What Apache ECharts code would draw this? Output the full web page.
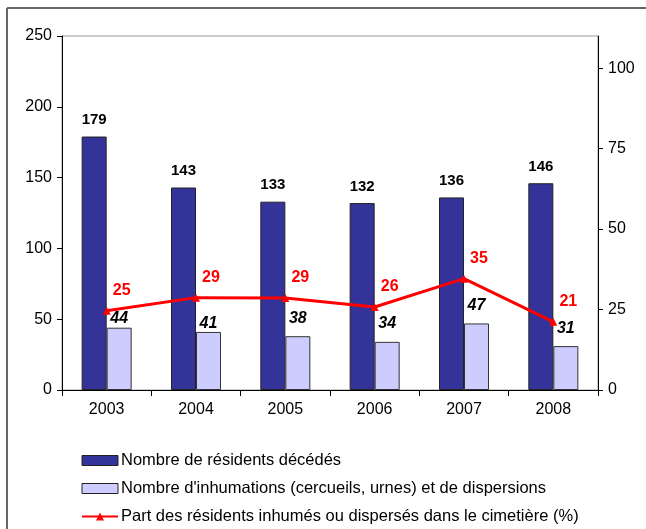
<!DOCTYPE html>
<html>
<head>
<meta charset="utf-8">
<script src="https://cdn.jsdelivr.net/npm/echarts@6/dist/echarts.min.js"></script>
<style>
html,body{margin:0;padding:0;background:#fff;}
#c{width:646px;height:529px;}
</style>
</head>
<body>
<div id="c"></div>
<script>
var categories = ['2003', '2004', '2005', '2006', '2007', '2008'];
var deces = [179, 143, 133, 132, 136, 146];
var inhumations = [44, 41, 38, 34, 47, 31];
var partPct = [24.6, 28.7, 28.6, 25.8, 34.6, 21.2];
var leftTicks = [0, 50, 100, 150, 200, 250];
var rightTicks = [0, 25, 50, 75, 100];

var seriesNames = [
  'Nombre de résidents décédés',
  "Nombre d'inhumations (cercueils, urnes) et de dispersions",
  'Part des résidents inhumés ou dispersés dans le cimetière (%)'
];

var font = 'Arial, "Liberation Sans", sans-serif';

var inhumData = inhumations.map(function (v, i) {
  var item = { value: v };
  if (i < 2) item.label = { distance: i === 0 ? 1 : 0 };
  return item;
});

var chart = echarts.init(document.getElementById('c'), null, { renderer: 'canvas' });
chart.setOption({
  backgroundColor: '#ffffff',
  animation: false,
  textStyle: { fontFamily: font },
  graphic: [
    { type: 'line', shape: { x1: 7, y1: 8, x2: 646, y2: 8 }, style: { stroke: '#666', lineWidth: 2 } },
    { type: 'line', shape: { x1: 7, y1: 8, x2: 7, y2: 529 }, style: { stroke: '#666', lineWidth: 2 } }
  ],
  grid: {
    left: 62, right: 48, top: 36, bottom: 139,
    show: true, borderColor: '#999', borderWidth: 1, backgroundColor: 'transparent'
  },
  legend: {
    orient: 'vertical',
    left: 81, top: 452, width: 560, height: 80,
    padding: 0,
    itemWidth: 36, itemHeight: 10, itemGap: 11,
    textStyle: { fontSize: 16.5, color: '#000', fontFamily: font, lineHeight: 17, padding: [0, 0, 0, -2] },
    data: [
      { name: seriesNames[0], icon: 'rect', itemStyle: { borderColor: '#222', borderWidth: 1 } },
      { name: seriesNames[1], icon: 'rect', itemStyle: { borderColor: '#222', borderWidth: 1 } },
      { name: seriesNames[2], itemStyle: { borderWidth: 0 } }
    ]
  },
  xAxis: {
    type: 'category',
    data: categories,
    axisLine: { lineStyle: { color: '#000', width: 1 } },
    axisTick: { show: true, length: 6, lineStyle: { color: '#000' } },
    axisLabel: { fontSize: 16, color: '#000', margin: 12, fontFamily: font }
  },
  yAxis: [
    {
      type: 'value', min: 0, max: 250, interval: 50,
      axisLine: { show: true, lineStyle: { color: '#000' } },
      axisTick: { show: true, length: 5, lineStyle: { color: '#000' } },
      splitLine: { show: false },
      axisLabel: { fontSize: 16, color: '#000', margin: 10, fontFamily: font }
    },
    {
      type: 'value', min: 0, max: 110, interval: 25, position: 'right',
      axisLine: { show: true, lineStyle: { color: '#000' } },
      axisTick: { show: true, length: 5, lineStyle: { color: '#000' } },
      splitLine: { show: false },
      axisLabel: { fontSize: 16, color: '#000', margin: 10, fontFamily: font, showMaxLabel: false }
    }
  ],
  series: [
    {
      name: seriesNames[0], type: 'bar', data: deces,
      barWidth: 25, barGap: '0%',
      itemStyle: { color: '#333399', borderColor: '#222', borderWidth: 1 },
      label: { show: true, position: 'top', distance: 9, fontSize: 15, fontWeight: 'bold', color: '#000', fontFamily: font }
    },
    {
      name: seriesNames[1], type: 'bar', data: inhumData,
      barWidth: 25,
      itemStyle: { color: '#CCCCFF', borderColor: '#333', borderWidth: 1 },
      label: { show: true, position: 'top', distance: 10, fontSize: 16, fontWeight: 'bold', fontStyle: 'italic', color: '#000', fontFamily: font }
    },
    {
      name: seriesNames[2], type: 'line', yAxisIndex: 1, data: partPct,
      symbol: 'triangle', symbolSize: 8,
      lineStyle: { color: '#FF0000', width: 3 },
      itemStyle: { color: '#FF0000' },
      label: {
        show: true, position: 'top', distance: 6, offset: [15, -2],
        fontSize: 16, fontWeight: 'bold', color: '#FF0000', fontFamily: font,
        formatter: function (p) { return Math.round(p.value); }
      },
      z: 5
    }
  ]
});
</script>
</body>
</html>
